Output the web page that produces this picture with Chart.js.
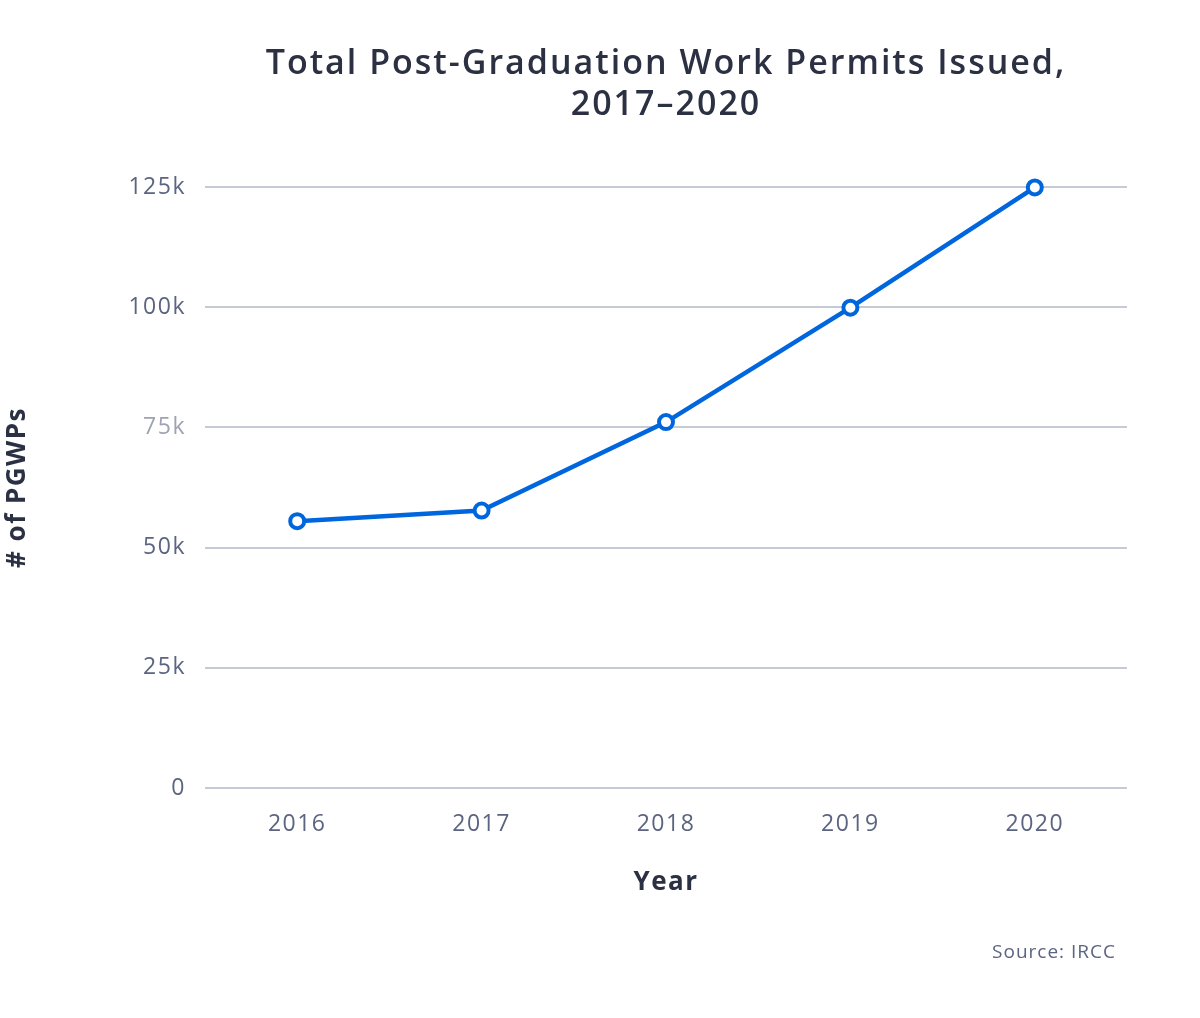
<!DOCTYPE html>
<html>
<head>
<meta charset="utf-8">
<script src="https://cdn.jsdelivr.net/npm/chart.js@4"></script>
<style>
  html, body { margin: 0; padding: 0; background: #ffffff; }
  #wrap { width: 1200px; height: 1018px; position: relative; }
</style>
</head>
<body>
<div id="wrap"><canvas id="c" width="1200" height="1018"></canvas></div>
<script>
const titleLines = ["Total Post-Graduation Work Permits Issued,", "2017–2020"];
const years = ["2016", "2017", "2018", "2019", "2020"];
const pgwps = [55500, 57700, 76100, 99900, 124900];
const yTicks = [0, 25000, 50000, 75000, 100000, 125000];
const yTickLabels = ["0", "25k", "50k", "75k", "100k", "125k"];
const xAxisTitle = "Year";
const yAxisTitle = "# of PGWPs";
const sourceText = "Source: IRCC";

const FONT = "'Open Sans', 'Noto Sans', sans-serif";
const BLUE = "#0066dd";
const DARK = "#2b3142";
const SLATE = "#5b6480";

const textPlugin = {
  id: "textExtras",
  beforeDraw(chart) {
    chart.ctx.letterSpacing = "1.5px";
  },
  afterDraw(chart) {
    const ctx = chart.ctx;
    const area = chart.chartArea;
    const cx = (area.left + area.right) / 2;
    ctx.save();
    ctx.fillStyle = DARK;
    ctx.textAlign = "center";
    ctx.textBaseline = "middle";
    ctx.font = "600 34px " + FONT;
    ctx.letterSpacing = "2px";
    ctx.fillText(titleLines[0], cx, 64);
    ctx.fillText(titleLines[1], cx, 105);
    ctx.font = "400 19px " + FONT;
    ctx.letterSpacing = "1px";
    ctx.fillStyle = SLATE;
    ctx.textAlign = "right";
    ctx.fillText(sourceText, 1116, 953);
    ctx.restore();
  }
};

new Chart(document.getElementById("c"), {
  type: "line",
  data: {
    labels: years,
    datasets: [{
      data: pgwps,
      borderColor: BLUE,
      borderWidth: 4.5,
      pointRadius: 7,
      pointHoverRadius: 7,
      pointBackgroundColor: "#ffffff",
      pointBorderColor: BLUE,
      pointBorderWidth: 4,
      tension: 0,
      fill: false,
      clip: false
    }]
  },
  options: {
    responsive: false,
    animation: false,
    devicePixelRatio: 1,
    layout: { padding: { left: 0, right: 73, top: 187, bottom: 0 } },
    plugins: {
      legend: { display: false },
      tooltip: { enabled: false },
      title: { display: false }
    },
    scales: {
      x: {
        type: "category",
        offset: true,
        grid: { display: false, drawTicks: false },
        border: { display: false },
        ticks: {
          color: SLATE,
          font: { family: FONT, size: 23 },
          padding: 23,
          maxRotation: 0
        },
        title: {
          display: true,
          text: xAxisTitle,
          color: DARK,
          font: { family: FONT, size: 26, weight: "700", lineHeight: 1.2 },
          padding: { top: 0, bottom: 120 }
        },
        afterFit(scale) { scale.height = 230; }
      },
      y: {
        min: 0,
        max: 125000,
        afterBuildTicks(scale) { scale.ticks = yTicks.map(v => ({ value: v })); },
        grid: { color: "#c6cad4", lineWidth: 2, drawTicks: false },
        border: { display: false },
        ticks: {
          color: (ctx) => ctx.tick && ctx.tick.value === 75000 ? "#9ea3b3" : SLATE,
          font: { family: FONT, size: 23 },
          padding: 19,
          callback: (v) => yTickLabels[yTicks.indexOf(v)]
        },
        title: {
          display: true,
          text: yAxisTitle,
          color: DARK,
          font: { family: FONT, size: 26, weight: "700", lineHeight: 1.2 },
          padding: { top: 2 }
        },
        afterFit(scale) { scale.width = 205; }
      }
    }
  },
  plugins: [textPlugin]
});
</script>
</body>
</html>
